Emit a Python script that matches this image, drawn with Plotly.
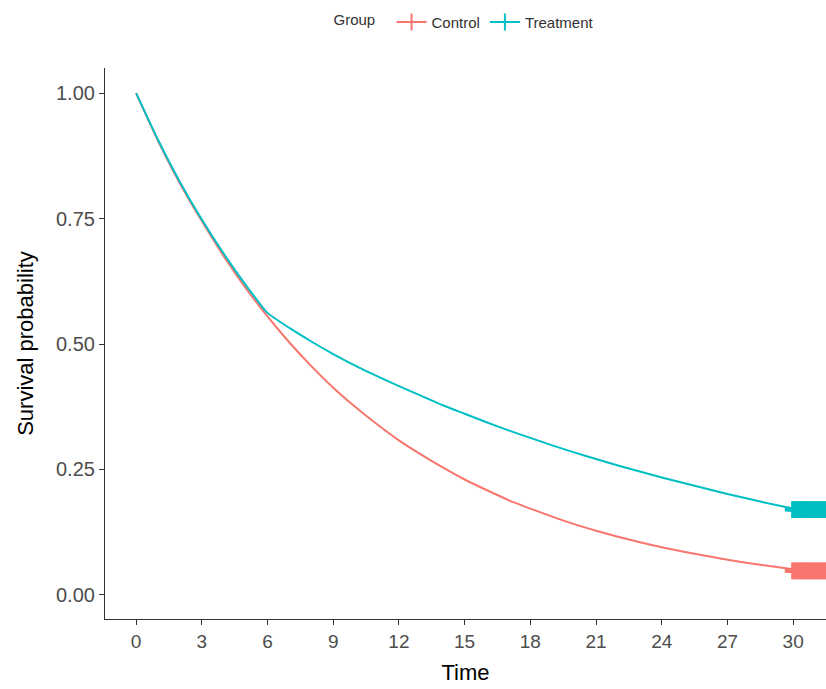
import plotly.graph_objects as go

time = list(range(0, 31))
control_surv = [1.00, 0.905, 0.82, 0.745, 0.675, 0.612, 0.555, 0.503, 0.456, 0.413, 0.375,
                0.340, 0.308, 0.280, 0.254, 0.230, 0.209, 0.189, 0.172, 0.156, 0.141,
                0.128, 0.116, 0.105, 0.095, 0.086, 0.078, 0.070, 0.063, 0.057, 0.051]
treatment_surv = [1.00, 0.907, 0.823, 0.748, 0.68, 0.618, 0.562, 0.532, 0.505, 0.48, 0.457,
                  0.436, 0.416, 0.397, 0.378, 0.361, 0.344, 0.328, 0.313, 0.298, 0.284,
                  0.271, 0.258, 0.246, 0.234, 0.223, 0.212, 0.201, 0.191, 0.181, 0.172]
censor_times = [30.0, 30.1, 30.2, 30.3, 30.4, 30.5, 30.6, 30.7, 30.8, 30.9, 31.0,
                31.1, 31.2, 31.3, 31.4, 31.5, 31.6, 31.7, 31.8]
control_censor_surv = 0.048
treatment_censor_surv = 0.170
groups = ["Control", "Treatment"]
colors = ["#F8766D", "#00BFC4"]
x_ticks = [0, 3, 6, 9, 12, 15, 18, 21, 24, 27, 30]
y_ticks = [0.00, 0.25, 0.50, 0.75, 1.00]
y_tick_labels = ["0.00", "0.25", "0.50", "0.75", "1.00"]

fig = go.Figure()
for name, surv, cs, col in zip(groups, [control_surv, treatment_surv],
                               [control_censor_surv, treatment_censor_surv], colors):
    fig.add_trace(go.Scatter(x=time, y=surv, mode="lines",
                             line=dict(color=col, width=2, shape="spline", smoothing=0.5),
                             showlegend=False, name=name))
    fig.add_trace(go.Scatter(x=censor_times, y=[cs] * len(censor_times), mode="markers",
                             marker=dict(symbol="cross-thin", size=12,
                                         line=dict(color=col, width=4)),
                             showlegend=False, name=name))
    fig.add_trace(go.Scatter(x=[None], y=[None], mode="lines+markers", name=name,
                             line=dict(color=col, width=2),
                             marker=dict(symbol="cross-thin", size=12,
                                         line=dict(color=col, width=2))))

fig.update_layout(
    width=826, height=689,
    margin=dict(l=105, r=0, t=68, b=70, autoexpand=False),
    paper_bgcolor="white", plot_bgcolor="white",
    font=dict(family="Liberation Sans, Arial, sans-serif", color="black"),
    legend=dict(orientation="h", x=0.5, xanchor="center", y=1.083, yanchor="middle",
                title=dict(text="Group  ", font=dict(size=15, color="#333333")),
                font=dict(size=15, color="#333333"), itemwidth=30,
                tracegroupgap=0),
    xaxis=dict(range=[-1.42, 31.5], tickvals=x_ticks, showgrid=False, zeroline=False,
               showline=True, linecolor="#333333", linewidth=1.2,
               ticks="outside", ticklen=5, tickcolor="#333333",
               tickfont=dict(size=19, color="#4D4D4D"), automargin=False,
               title=dict(text="Time", font=dict(size=22, color="black"), standoff=13)),
    yaxis=dict(range=[-0.048, 1.05], tickvals=y_ticks, ticktext=y_tick_labels,
               showgrid=False, zeroline=False,
               showline=True, linecolor="#333333", linewidth=1.2,
               ticks="outside", ticklen=5, tickcolor="#333333",
               tickfont=dict(size=20, color="#4D4D4D"), automargin=False,
               title=dict(text="Survival probability", font=dict(size=22, color="black"),
                          standoff=16)),
)

fig.write_html("out.html", config={"displayModeBar": False},
               post_script="document.body.style.margin='0';document.body.style.overflow='hidden';")
